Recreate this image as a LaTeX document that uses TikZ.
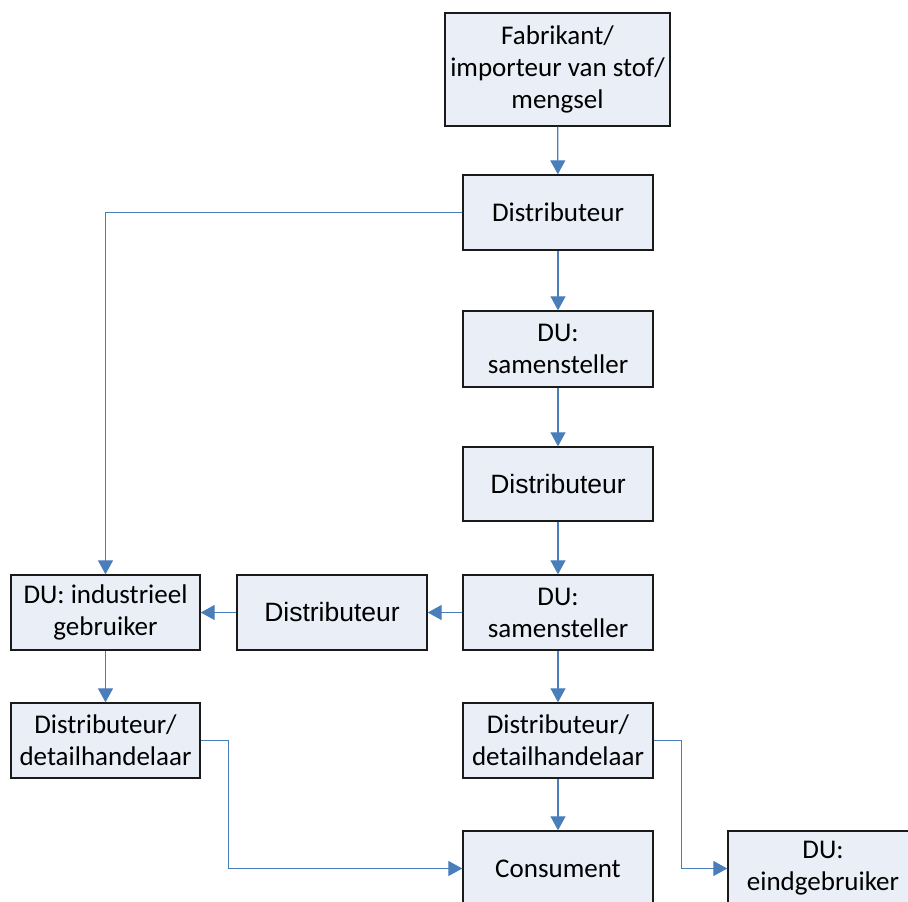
\documentclass[tikz,border=0pt]{standalone}
\usepackage{fontspec}
\setmainfont{Carlito}
\newfontfamily\arialf{Liberation Sans}
\usetikzlibrary{arrows.meta}
\definecolor{boxfill}{HTML}{E9EEF7}
\definecolor{linkblue}{HTML}{4A7EBB}
\definecolor{boxline}{HTML}{1A1A1A}
\tikzset{
  box/.style={draw=boxline, line width=1.4pt, fill=boxfill, inner sep=0pt,
    minimum width=190pt, minimum height=75pt, align=center,
    font=\fontsize{27}{32}\selectfont},
  abox/.style={box, font=\arialf\fontsize{26.5}{32}\selectfont},
  link/.style={draw=linkblue, line width=1.3pt,
    -{Triangle[length=14pt,width=15pt]}},
  plain/.style={draw=linkblue, line width=1.3pt}
}
\begin{document}
\begin{tikzpicture}[x=1pt,y=-1pt]
\useasboundingbox (0,0) rectangle (908,902);
\node[box, minimum width=225pt, minimum height=113pt] (fab) at (557.5,69.5) {Fabrikant/\\importeur van stof/\\mengsel};
\node[box] (d1) at (558,212.5) {Distributeur};
\node[box, minimum height=76pt] (s1) at (558,349) {DU:\\samensteller};
\node[abox, minimum height=74pt] (d2) at (558,484) {Distributeur};
\node[box] (s2) at (558,612.5) {DU:\\samensteller};
\node[abox] (dl) at (332,612.5) {Distributeur};
\node[box, minimum width=189pt] (ind) at (105.5,612.5) {DU: industrieel\\gebruiker};
\node[box, minimum width=189pt] (detL) at (105.5,740.5) {Distributeur/\\detailhandelaar};
\node[box] (detR) at (558,740.5) {Distributeur/\\detailhandelaar};
\node[box] (cons) at (558,868.5) {Consument};
\node[box] (eind) at (823,868.5) {DU:\\eindgebruiker};

\draw[link] (fab) -- (d1);
\draw[link] (d1) -- (s1);
\draw[link] (s1) -- (d2);
\draw[link] (d2) -- (s2);
\draw[link] (s2) -- (dl);
\draw[link] (dl) -- (ind);
\draw[link] (ind) -- (detL);
\draw[link] (s2) -- (detR);
\draw[link] (detR) -- (cons);
\draw[link] (d1.west) -| (ind.north);
\draw[link] (detL.east) -- ++(28,0) |- (cons.west);
\draw[link] (detR.east) -- ++(28,0) |- (eind.west);
\end{tikzpicture}
\end{document}
